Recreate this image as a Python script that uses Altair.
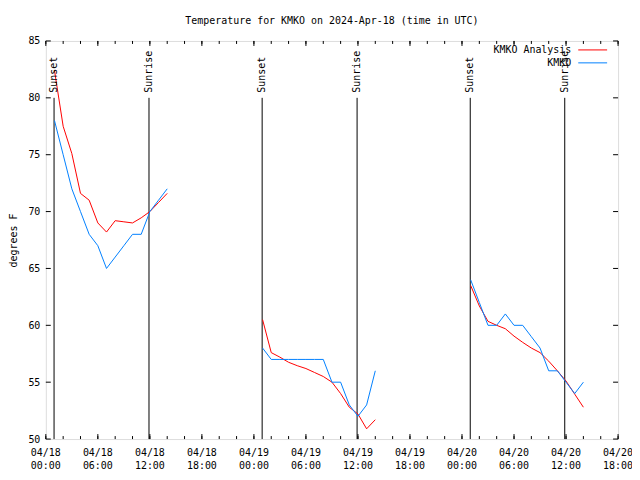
import altair as alt
import pandas as pd

FONT = "DejaVu Sans Mono"

# ---- data (hours since 2024-04-18 00:00 UTC) ----
series_names = ["KMKO Analysis", "KMKO"]
series_colors = ["#ff0000", "#0080ff"]

hours_1 = list(range(1, 15))
analysis_vals_1 = [82.4, 77.5, 75.1, 71.6, 71.0, 69.0, 68.2, 69.2, 69.1, 69.0, 69.45, 70.0, 70.8, 71.6]
obs_vals_1 = [78, 75, 72, 70, 68, 67, 65, 66, 67, 68, 68, 70, 71, 72]

hours_2 = list(range(25, 39))
analysis_vals_2 = [60.5, 57.6, 57.2, 56.75, 56.45, 56.2, 55.85, 55.5, 55.0, 54.0, 52.8, 52.2, 50.9, 51.7]
obs_vals_2 = [58, 57, 57, 57, 57, 57, 57, 57, 55, 55, 53, 52, 53, 56]

hours_3 = list(range(49, 63))
analysis_vals_3 = [63.5, 61.7, 60.35, 60.0, 59.7, 59.05, 58.5, 58.0, 57.6, 56.85, 56.0, 55.1, 53.95, 52.8]
obs_vals_3 = [64, 62, 60, 60, 61, 60, 60, 59, 58, 56, 56, 55, 54, 55]

event_hours = [0.95, 11.9, 24.95, 35.9, 48.95, 59.85]
event_labels = ["Sunset", "Sunrise", "Sunset", "Sunrise", "Sunset", "Sunrise"]
event_top = 80
event_bottom = 50

tick_hours = list(range(0, 67, 6))
tick_dates = ["04/18"] * 4 + ["04/19"] * 4 + ["04/20"] * 4
tick_times = ["00:00", "06:00", "12:00", "18:00"] * 3
minor_hours = list(range(0, 67, 2))
y_ticks = [50, 55, 60, 65, 70, 75, 80, 85]

title_text = "Temperature for KMKO on 2024-Apr-18 (time in UTC)"

# ---- tables ----
rows = []
for seg, (hs, av, ov) in enumerate([(hours_1, analysis_vals_1, obs_vals_1),
                                    (hours_2, analysis_vals_2, obs_vals_2),
                                    (hours_3, analysis_vals_3, obs_vals_3)]):
    for h, a, o in zip(hs, av, ov):
        rows.append({"h": h, "temp": a, "series": series_names[0], "seg": seg})
        rows.append({"h": h, "temp": o, "series": series_names[1], "seg": seg})
df = pd.DataFrame(rows)
df_events = pd.DataFrame({"h": event_hours, "label": event_labels})
df_ticks = pd.DataFrame({"h": tick_hours, "date": tick_dates, "time": tick_times})
df_minor = pd.DataFrame({"h": minor_hours})
df_y = pd.DataFrame({"v": y_ticks})

W, H = 575, 400
xscale = alt.Scale(domain=[0, 66], nice=False, zero=False)
yscale = alt.Scale(domain=[50, 85], nice=False, zero=False)
X = alt.X("h:Q", scale=xscale, axis=None)
yaxis = alt.Axis(values=y_ticks, ticks=False, domain=False, grid=False,
                 labelFont=FONT, labelFontSize=10, labelColor="black",
                 labelPadding=6, title="degrees F", titleFont=FONT,
                 titleFontSize=10, titleFontWeight="normal", titleColor="black",
                 titleAngle=270, titleX=-32, titleY=200,
                 titleAlign="center", titleBaseline="middle")

lines = alt.Chart(df).mark_line(strokeWidth=1).encode(
    x=X,
    y=alt.Y("temp:Q", scale=yscale, axis=yaxis),
    color=alt.Color("series:N", scale=alt.Scale(domain=series_names, range=series_colors),
                    legend=None),
    detail="seg:N",
)

ev_rules = alt.Chart(df_events).mark_rule(color="black", strokeWidth=1).encode(
    x=X, y=alt.datum(event_top, scale=yscale, axis=yaxis), y2=alt.datum(event_bottom))
ev_text = alt.Chart(df_events).mark_text(
    font=FONT, fontSize=10, angle=270, align="left", baseline="middle", color="black"
).encode(x=X, y=alt.value(52), text="label:N")

maj_b = alt.Chart(df_ticks).mark_rule(color="black").encode(x=X, y=alt.value(H), y2=alt.value(H - 5))
maj_t = alt.Chart(df_ticks).mark_rule(color="black").encode(x=X, y=alt.value(0), y2=alt.value(5))
min_b = alt.Chart(df_minor).mark_rule(color="black").encode(x=X, y=alt.value(H), y2=alt.value(H - 3))
min_t = alt.Chart(df_minor).mark_rule(color="black").encode(x=X, y=alt.value(0), y2=alt.value(3))
Y = alt.Y("v:Q", scale=yscale, axis=yaxis)
yt_l = alt.Chart(df_y).mark_rule(color="black").encode(y=Y, x=alt.value(0), x2=alt.value(5))
yt_r = alt.Chart(df_y).mark_rule(color="black").encode(y=Y, x=alt.value(W), x2=alt.value(W - 5))

lab_d = alt.Chart(df_ticks).mark_text(font=FONT, fontSize=10, baseline="middle", color="black").encode(
    x=X, y=alt.value(H + 14), text="date:N")
lab_t = alt.Chart(df_ticks).mark_text(font=FONT, fontSize=10, baseline="middle", color="black").encode(
    x=X, y=alt.value(H + 27), text="time:N")

title_layer = alt.Chart(pd.DataFrame({"t": [title_text]})).mark_text(
    font=FONT, fontSize=10, align="center", baseline="middle", color="black"
).encode(x=alt.value(W / 2), y=alt.value(-20), text="t:N")

leg_layers = []
for i, (name, col) in enumerate(zip(series_names, series_colors)):
    yy = 9 + 13 * i
    leg_layers.append(alt.Chart(pd.DataFrame({"name": [name]})).mark_text(
        font=FONT, fontSize=10, align="right", baseline="middle", color="black"
    ).encode(x=alt.value(528), y=alt.value(yy), text="name:N"))
    leg_layers.append(alt.Chart(pd.DataFrame({"name": [name]})).mark_rule(
        color=col, strokeWidth=1
    ).encode(x=alt.value(535), x2=alt.value(564), y=alt.value(yy)))

chart = alt.layer(
    ev_rules, lines, ev_text, maj_b, maj_t, min_b, min_t, yt_l, yt_r, lab_d, lab_t,
    title_layer, *leg_layers
).properties(
    width=W, height=H,
    autosize=alt.AutoSizeParams(type="none"),
    padding={"left": 38, "top": 32, "right": 14, "bottom": 36},
).configure_view(stroke="black", strokeWidth=1).configure(background="white")

chart.save("out.html", embed_options={"renderer": "svg", "actions": False})
